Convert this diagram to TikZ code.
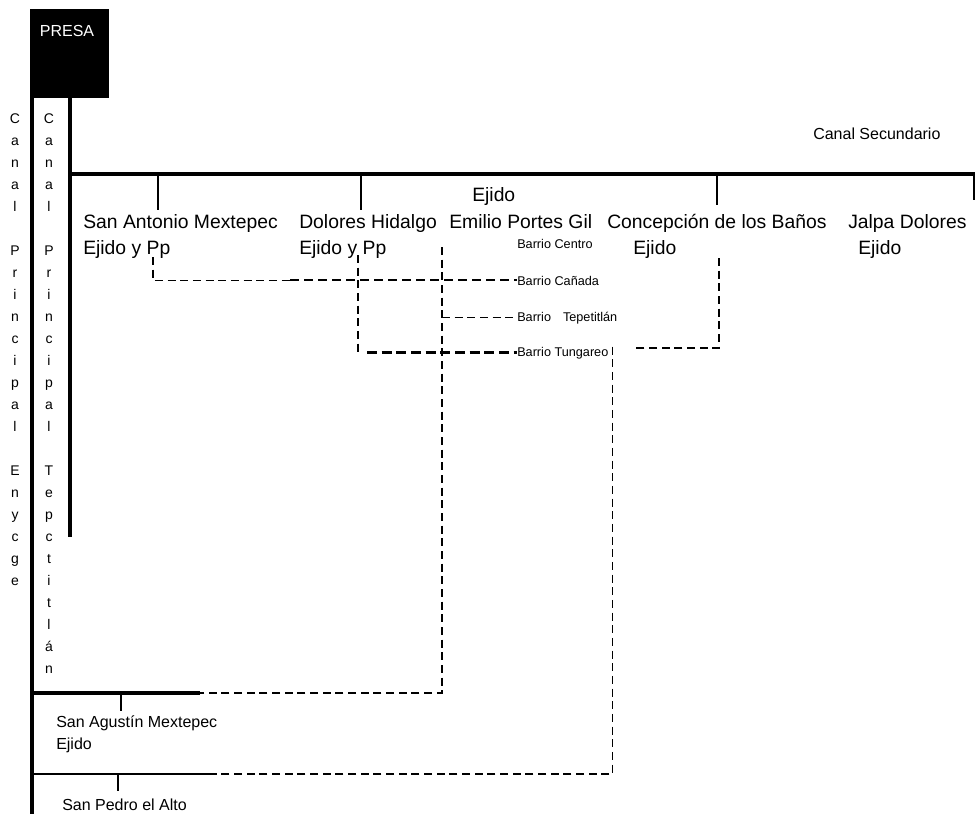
\documentclass[tikz,border=0pt]{standalone}
\usepackage{fontspec}
\setmainfont{Liberation Sans}
\tikzset{
  canal/.style={line width=3pt},
  canalf/.style={line width=1.9pt},
  toma/.style={line width=1.4pt},
  link/.style={line width=0.9pt, dash pattern=on 6pt off 3.5pt},
  linkm/.style={line width=1.5pt, dash pattern=on 7pt off 3.5pt},
  linkb/.style={line width=2.4pt, dash pattern=on 7.5pt off 3.5pt},
  lugar/.style={anchor=base west, inner sep=0pt, font=\fontsize{14.5}{17}\selectfont},
  lugarb/.style={anchor=base west, inner sep=0pt, font=\fontsize{12}{14}\selectfont},
  barrio/.style={anchor=base west, inner sep=0pt, font=\fontsize{9.5}{11}\selectfont},
  vtexto/.style={anchor=north, inner sep=0pt, align=center, font=\fontsize{10.5}{16.5}\selectfont},
}
\begin{document}
\begin{tikzpicture}[x=0.75pt, y=-0.75pt]
  \useasboundingbox (0,0) rectangle (975,814);
  % --- presa ---
  \node[fill=black, minimum width=59.25pt, minimum height=66.75pt, inner sep=0pt,
    anchor=north west] (presa) at (30,9) {};
  \node[text=white, font=\fontsize{12}{14}\selectfont, anchor=base, inner sep=0pt]
    (presat) at (67,36) {PRESA};
  % --- canales ---
  \coordinate (cpTop) at (32,97);
  \coordinate (cpBot) at (32,816);
  \coordinate (ctTop) at (70,97);
  \coordinate (ctBot) at (70,537);
  \coordinate (csW) at (68.5,174);
  \coordinate (csE) at (977,174);
  \draw[canal] (cpTop) -- (cpBot);
  \draw[canal] (ctTop) -- (ctBot);
  \draw[canal] (csW) -- (csE);
  \node[vtexto] (cpe) at (15,113)
    {C\\a\\n\\a\\l\\[16.5pt]P\\r\\i\\n\\c\\i\\p\\a\\l\\[16.5pt]E\\n\\y\\c\\g\\e};
  \node[vtexto] (cpt) at (49,113)
    {C\\a\\n\\a\\l\\[16.5pt]P\\r\\i\\n\\c\\i\\p\\a\\l\\[16.5pt]T\\e\\p\\c\\t\\i\\t\\l\\á\\n};
  \node[lugarb] (cs) at (813,139) {Canal Secundario};
  % --- tomas del canal secundario ---
  \draw[toma] (158,174) -- (158,210);
  \draw[toma] (361,174) -- (361,210);
  \draw[toma] (717,174) -- (717,205);
  \draw[toma] (974,174) -- (974,200);
  \node[lugar] (sam)  at (83,228)  {San Antonio Mextepec};
  \node[lugar] (sam2) at (83,254)  {Ejido y Pp};
  \node[lugar] (dh)   at (299,228) {Dolores Hidalgo};
  \node[lugar] (dh2)  at (299,254) {Ejido y Pp};
  \node[lugar] (epg0) at (472,201) {Ejido};
  \node[lugar] (epg)  at (449,228) {Emilio Portes Gil};
  \node[lugar] (cb)   at (607,228) {Concepción de los Baños};
  \node[lugar] (cb2)  at (633,254) {Ejido};
  \node[lugar] (jd)   at (848,228) {Jalpa Dolores};
  \node[lugar] (jd2)  at (858,254) {Ejido};
  % --- barrios ---
  \node[barrio] (bce) at (517,248) {Barrio Centro};
  \node[barrio] (bca) at (517,285) {Barrio Cañada};
  \node[barrio] (bte) at (517,321) {Barrio\hspace{9pt}Tepetitlán};
  \node[barrio] (btu) at (517,356) {Barrio Tungareo};
  % --- ramales de abajo ---
  \coordinate (sae) at (200,693);
  \coordinate (spe) at (213,774);
  \draw[canal] (32,693) -- (sae);
  \draw[toma] (121,693) -- (121,711);
  \draw[canalf] (32,774) -- (spe);
  \draw[toma] (118,774) -- (118,791);
  \node[lugarb] (sag)  at (56,727) {San Agustín Mextepec};
  \node[lugarb] (sag2) at (56,749) {Ejido};
  \node[lugarb] (spa)  at (62,810) {San Pedro el Alto};
  % --- conexiones ---
  \coordinate (c1a) at (153,257);
  \coordinate (c1b) at (290,280);
  \draw[link] (c1a) |- (c1b |- bca.west);
  \draw[linkm] (c1b |- bca.west) -- (bca.west);
  \coordinate (c2a) at (358,255);
  \coordinate (c2b) at (367,352);
  \draw[link] (c2a) -- (c2a |- btu.west);
  \draw[linkb] (c2b |- btu.west) -- (btu.west);
  \coordinate (c3a) at (442,247);
  \draw[link] (c3a) |- (sae);
  \draw[link] (c3a |- bte.west) -- (bte.west);
  \draw[link] ([xshift=3pt]btu.north east) |- (spe);
  \coordinate (c5a) at (719,258);
  \coordinate (c5b) at (633,348);
  \draw[link] (c5a) |- (c5b);
\end{tikzpicture}
\end{document}
